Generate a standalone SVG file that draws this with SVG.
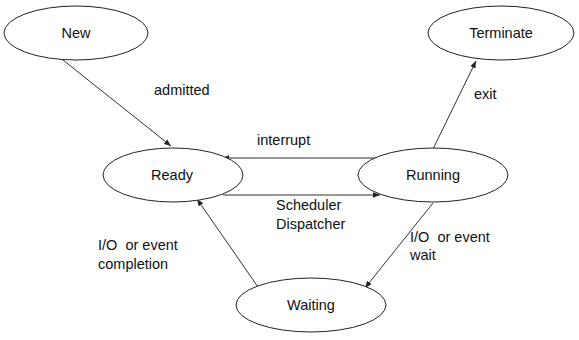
<svg xmlns="http://www.w3.org/2000/svg" width="579" height="340" viewBox="0 0 579 340">
<style>
.n{fill:#fff;stroke:#222;stroke-width:1}
.t{font-family:"Liberation Sans",Arial,sans-serif;font-size:14.5px;fill:#111;white-space:pre}
.c{text-anchor:middle;dominant-baseline:central}
.e{stroke:#333;stroke-width:1;fill:none;marker-end:url(#ah)}
</style>
<defs>
<marker id="ah" viewBox="0 0 10 10" refX="10" refY="5" markerWidth="7" markerHeight="7" markerUnits="userSpaceOnUse" orient="auto">
<path d="M0,1 L10,5 L0,9 z" fill="#222"/>
</marker>
</defs>
<rect width="579" height="340" fill="#fff"/>
<g id="connectors">
<line class="e" x1="63" y1="60" x2="171" y2="146"/>
<line class="e" x1="433" y1="149" x2="476" y2="61"/>
<line class="e" x1="378" y1="158" x2="222" y2="158"/>
<line class="e" x1="223" y1="195" x2="380" y2="195"/>
<line class="e" x1="258" y1="287" x2="197" y2="199"/>
<line class="e" x1="433" y1="203" x2="365" y2="288"/>
</g>
<g id="labels">
<text class="t" x="154" y="95">admitted</text>
<text class="t" x="474" y="99">exit</text>
<text class="t" x="257" y="145">interrupt</text>
<text class="t" x="276" y="210">Scheduler</text>
<text class="t" x="276" y="229">Dispatcher</text>
<text class="t" x="98" y="250">I/O  or event</text>
<text class="t" x="98" y="269">completion</text>
<text class="t" x="410" y="242">I/O  or event</text>
<text class="t" x="410" y="260">wait</text>
</g>
<g id="new"><ellipse class="n" cx="76" cy="33" rx="72" ry="27"/><text class="t c" x="76" y="33">New</text></g>
<g id="terminate"><ellipse class="n" cx="501" cy="33" rx="73" ry="27"/><text class="t c" x="501" y="33">Terminate</text></g>
<g id="ready"><ellipse class="n" cx="173" cy="175" rx="70" ry="27"/><text class="t c" x="172" y="175">Ready</text></g>
<g id="running"><ellipse class="n" cx="433" cy="175" rx="75" ry="27"/><text class="t c" x="433" y="175">Running</text></g>
<g id="waiting"><ellipse class="n" cx="311" cy="305" rx="75" ry="27"/><text class="t c" x="311" y="305">Waiting</text></g>
</svg>
